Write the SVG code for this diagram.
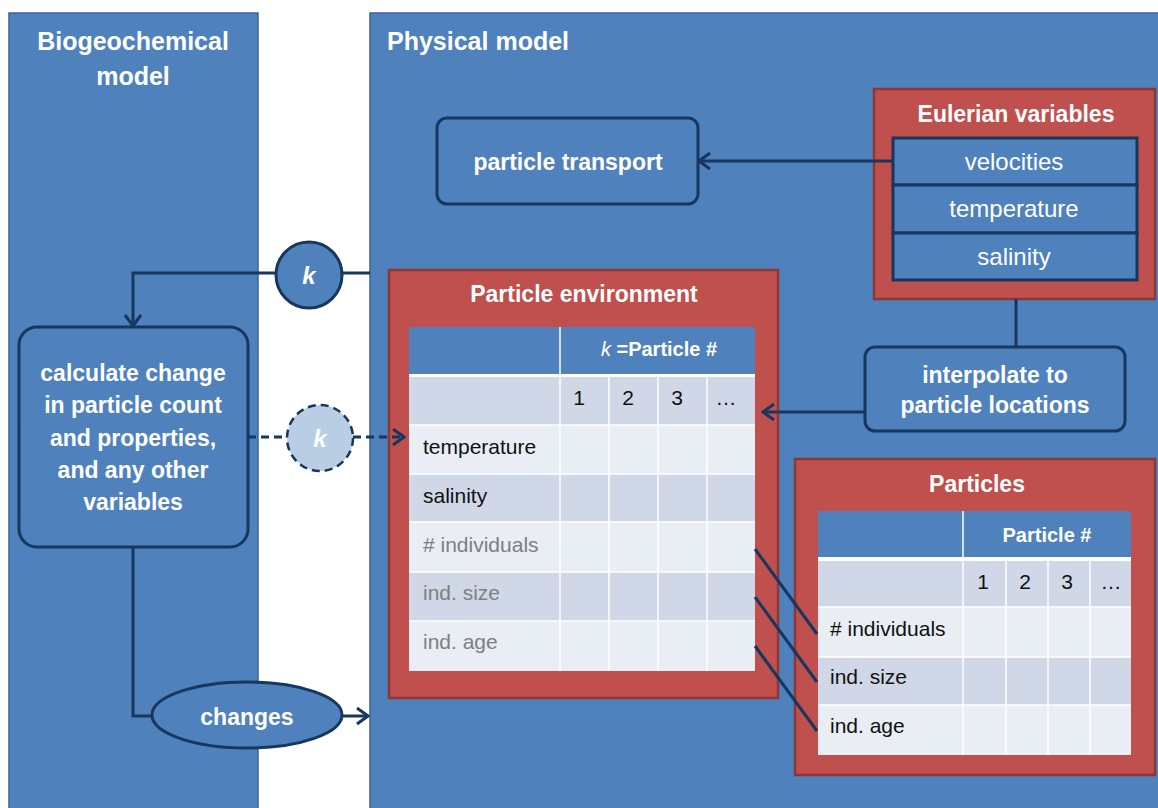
<svg xmlns="http://www.w3.org/2000/svg" width="1158" height="808" viewBox="0 0 1158 808">
<style>
text{font-family:"Liberation Sans",Arial,sans-serif}
.panel{fill:#4f81bd;stroke:#3b6494;stroke-width:1.5}
.box{fill:#4f81bd;stroke:#17375e;stroke-width:3}
.red{fill:#c0504d;stroke:#8c3836;stroke-width:2.5}
.title{font-size:25px;font-weight:bold;fill:#fff}
.bt{font-size:23px;font-weight:bold;fill:#fff;text-anchor:middle}
.reg{font-size:24px;fill:#fff;text-anchor:middle}
.hdr{fill:#4f81bd}
.b1{fill:#d0d8e8}
.b2{fill:#e9edf4}
.grid{stroke:#fff;stroke-width:1.5}
.td{font-size:21px;fill:#111}
.tg{font-size:21px;fill:#7f7f7f}
.num{font-size:21px;fill:#111;text-anchor:middle}
.th{font-size:20px;font-weight:bold;fill:#fff;text-anchor:middle}
.con{fill:none;stroke:#17375e;stroke-width:3}
.dash{fill:none;stroke:#17375e;stroke-width:3;stroke-dasharray:8,5}
</style>
<defs>
<marker id="arr" markerUnits="userSpaceOnUse" markerWidth="14" markerHeight="20" refX="12" refY="9" orient="auto">
<path d="M1,1 L12,9 L1,17" fill="none" stroke="#17375e" stroke-width="3"/>
</marker>
</defs>
<rect width="1158" height="808" fill="#fff"/>

<g id="biogeochemical-panel">
<rect class="panel" x="9" y="13" width="249" height="800"/>
<text class="title" x="133" y="50" text-anchor="middle">Biogeochemical</text>
<text class="title" x="133" y="85" text-anchor="middle">model</text>
</g>

<g id="physical-panel">
<rect class="panel" x="370" y="13" width="800" height="800"/>
<text class="title" x="387" y="50">Physical model</text>
</g>

<g id="particle-transport">
<rect class="box" x="437" y="118" width="261" height="86" rx="10"/>
<text class="bt" x="568" y="170">particle transport</text>
</g>

<g id="eulerian-variables">
<rect class="red" x="874" y="89" width="281" height="210"/>
<text class="bt" x="1016" y="122">Eulerian variables</text>
<rect class="box" x="893" y="138" width="244" height="47" stroke-width="2.5"/>
<rect class="box" x="893" y="185" width="244" height="48" stroke-width="2.5"/>
<rect class="box" x="893" y="233" width="244" height="47" stroke-width="2.5"/>
<text class="reg" x="1014" y="170">velocities</text>
<text class="reg" x="1014" y="217">temperature</text>
<text class="reg" x="1014" y="265">salinity</text>
</g>

<g id="interpolate">
<rect class="box" x="865" y="347" width="260" height="84" rx="10"/>
<text class="bt" x="995" y="383">interpolate to</text>
<text class="bt" x="995" y="413">particle locations</text>
</g>

<g id="particle-environment">
<rect class="red" x="389" y="270" width="389" height="428"/>
<text class="bt" x="584" y="302">Particle environment</text>
<rect x="409" y="327" width="346" height="344" fill="#fff"/>
<rect class="hdr" x="409" y="327" width="346" height="47"/>
<rect class="b1" x="409" y="377" width="346" height="48"/>
<rect class="b2" x="409" y="425" width="346" height="49"/>
<rect class="b1" x="409" y="474" width="346" height="48"/>
<rect class="b2" x="409" y="522" width="346" height="50"/>
<rect class="b1" x="409" y="572" width="346" height="49"/>
<rect class="b2" x="409" y="621" width="346" height="50"/>
<g class="grid">
<line x1="560" y1="327" x2="560" y2="671"/>
<line x1="609" y1="377" x2="609" y2="671"/>
<line x1="658" y1="377" x2="658" y2="671"/>
<line x1="707" y1="377" x2="707" y2="671"/>
<line x1="409" y1="425" x2="755" y2="425"/>
<line x1="409" y1="474" x2="755" y2="474"/>
<line x1="409" y1="522" x2="755" y2="522"/>
<line x1="409" y1="572" x2="755" y2="572"/>
<line x1="409" y1="621" x2="755" y2="621"/>
</g>
<text class="th" x="659" y="356"><tspan font-style="italic" font-weight="normal">k</tspan> =Particle #</text>
<text class="num" x="579" y="405">1</text>
<text class="num" x="628" y="405">2</text>
<text class="num" x="677" y="405">3</text>
<text class="num" x="726" y="405">…</text>
<text class="td" x="423" y="454">temperature</text>
<text class="td" x="423" y="503">salinity</text>
<text class="tg" x="423" y="552"># individuals</text>
<text class="tg" x="423" y="600">ind. size</text>
<text class="tg" x="423" y="649">ind. age</text>
</g>

<g id="particles">
<rect class="red" x="795" y="459" width="360" height="316"/>
<text class="bt" x="977" y="492">Particles</text>
<rect x="818" y="511" width="313" height="244" fill="#fff"/>
<rect class="hdr" x="818" y="511" width="313" height="46"/>
<rect class="b1" x="818" y="561" width="313" height="46"/>
<rect class="b2" x="818" y="607" width="313" height="50"/>
<rect class="b1" x="818" y="657" width="313" height="48"/>
<rect class="b2" x="818" y="705" width="313" height="50"/>
<g class="grid">
<line x1="963" y1="511" x2="963" y2="755"/>
<line x1="1006" y1="561" x2="1006" y2="755"/>
<line x1="1048" y1="561" x2="1048" y2="755"/>
<line x1="1090" y1="561" x2="1090" y2="755"/>
<line x1="818" y1="607" x2="1131" y2="607"/>
<line x1="818" y1="657" x2="1131" y2="657"/>
<line x1="818" y1="705" x2="1131" y2="705"/>
</g>
<text class="th" x="1047" y="542">Particle #</text>
<text class="num" x="983" y="589">1</text>
<text class="num" x="1025" y="589">2</text>
<text class="num" x="1067" y="589">3</text>
<text class="num" x="1111" y="589">…</text>
<text class="td" x="830" y="636"># individuals</text>
<text class="td" x="830" y="684">ind. size</text>
<text class="td" x="830" y="733">ind. age</text>
</g>

<g id="calculate-change">
<rect class="box" x="19" y="327" width="229" height="220" rx="18"/>
<text class="bt" x="133" y="381" font-size="22">calculate change</text>
<text class="bt" x="133" y="413" font-size="22">in particle count</text>
<text class="bt" x="133" y="446" font-size="22">and properties,</text>
<text class="bt" x="133" y="478" font-size="22">and any other</text>
<text class="bt" x="133" y="510" font-size="22">variables</text>
</g>

<g id="connectors">
<line class="con" x1="893" y1="161" x2="699" y2="161" marker-end="url(#arr)"/>
<line class="con" x1="1016" y1="299" x2="1016" y2="347"/>
<line class="con" x1="865" y1="412" x2="763" y2="412" marker-end="url(#arr)"/>
<polyline class="con" points="370,273 133,273 133,326" marker-end="url(#arr)"/>
<line class="dash" x1="248" y1="437" x2="287" y2="437"/>
<line class="dash" x1="353" y1="437" x2="404" y2="437" marker-end="url(#arr)"/>
<polyline class="con" points="133,547 133,716 152,716"/>
<line class="con" x1="343" y1="716" x2="368" y2="716" marker-end="url(#arr)"/>
<line class="con" x1="755" y1="549" x2="817" y2="634"/>
<line class="con" x1="755" y1="597" x2="817" y2="682"/>
<line class="con" x1="755" y1="646" x2="817" y2="731"/>
</g>

<g id="k-circle">
<circle cx="309" cy="275" r="33" fill="#4f81bd" stroke="#17375e" stroke-width="3"/>
<text x="309" y="284" font-size="24" font-weight="bold" font-style="italic" fill="#fff" text-anchor="middle">k</text>
</g>

<g id="k-dashed-circle">
<circle cx="320" cy="438" r="33" fill="#b9cde5" stroke="#17375e" stroke-width="2.5" stroke-dasharray="8,5"/>
<text x="320" y="447" font-size="24" font-weight="bold" font-style="italic" fill="#fff" text-anchor="middle">k</text>
</g>

<g id="changes">
<ellipse cx="247" cy="715" rx="95" ry="33" fill="#4f81bd" stroke="#17375e" stroke-width="3"/>
<text class="bt" x="247" y="725" font-size="24">changes</text>
</g>
</svg>
